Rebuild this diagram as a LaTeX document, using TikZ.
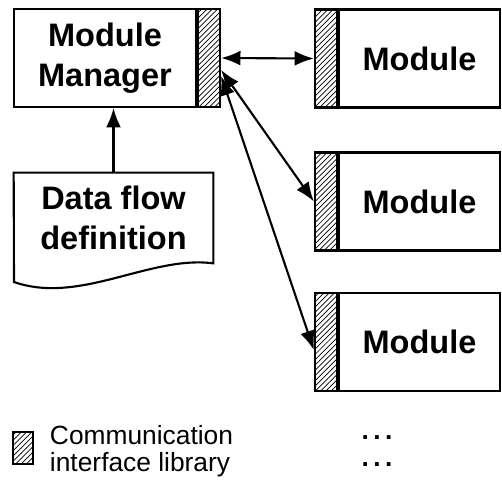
\documentclass[tikz,border=0pt]{standalone}
\usepackage{fontspec}
\setmainfont{Liberation Sans}
\usetikzlibrary{arrows.meta}
\usetikzlibrary{patterns}
\usetikzlibrary{positioning}

\tikzset{
  box/.style={draw, line width=1.2pt, minimum width=3.64cm, minimum height=1.96cm, font=\fontsize{18.5}{23}\selectfont\bfseries, align=center},
  iface/.style={draw, line width=1.2pt, pattern=north east lines, minimum width=0.44cm, minimum height=1.96cm, inner sep=0pt},
  link/.style={line width=1.2pt, {Latex[length=11pt,width=8.5pt]}-{Latex[length=11pt,width=8.5pt]}},
  more/.style={inner sep=0pt, font=\fontsize{15}{15}\selectfont\bfseries},
}

\begin{document}
\begin{tikzpicture}[x=0.02cm, y=-0.02cm]
    \useasboundingbox (0,0) rectangle (502,485);

    \node [box] (mgr) at (105,58) {Module\\Manager};
    \node [iface, right=0pt of mgr] (mgrif) {};

    \node [box, minimum width=3.22cm] (mod1) at (419.5,58.5) {Module};
    \node [iface, left=0pt of mod1] (modif1) {};
    \node [box, minimum width=3.22cm] (mod2) at (419.5,201.5) {Module};
    \node [iface, left=0pt of mod2] (modif2) {};
    \node [box, minimum width=3.22cm] (mod3) at (419.5,342) {Module};
    \node [iface, left=0pt of mod3] (modif3) {};

    \node [minimum width=3.98cm, minimum height=1.8cm, font=\fontsize{18.5}{23}\selectfont\bfseries, align=center] (doc) at (113.5,218) {Data flow\\definition};
    \coordinate (docbl) at (14,282);
    \draw [line width=1.2pt] (doc.north west) -- (doc.north east) -- (doc.south east) .. controls (150,255) and (80,305) .. (docbl) -- cycle;

    \draw [line width=1.2pt, -{Latex[length=11pt,width=8.5pt]}] (doc.north) -- (doc.north |- mgr.south);

    \draw [link] (mgrif.east) -- (modif1.west);
    \draw [link] ([yshift=-0.24cm]mgrif.east) -- (modif2.west);
    \draw [link] ([yshift=-0.36cm]mgrif.east) -- ([yshift=-0.16cm]modif3.west);

    % legend
    \node [draw, line width=0.9pt, pattern=north east lines, minimum width=0.4cm, minimum height=0.64cm, inner sep=0pt] (key) at (23,448) {};
    \node [right=0.2cm of key, yshift=-0.06cm, align=left, font=\fontsize{15}{15.5}\selectfont] (keytext) {Communication\\interface library};
    \node [more] (dots1) at (377,438) {.\,.\,.};
    \node [more] (dots2) at (377,465) {.\,.\,.};
\end{tikzpicture}
\end{document}
